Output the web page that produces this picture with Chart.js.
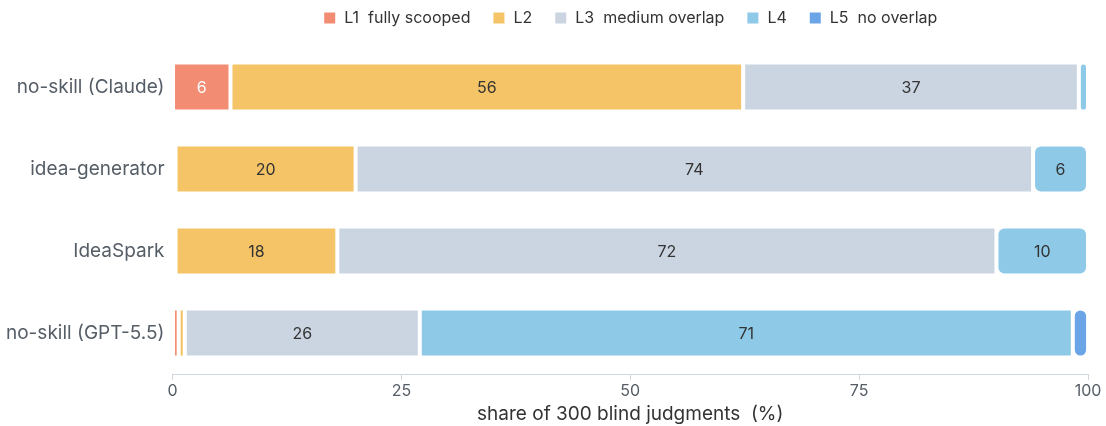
<!DOCTYPE html>
<html>
<head>
<meta charset="utf-8">
<script src="https://cdn.jsdelivr.net/npm/chart.js@4/dist/chart.umd.min.js"></script>
<style>
  body { margin: 0; background: #fff; }
  canvas { display: block; }
</style>
</head>
<body>
<canvas id="myChart" width="1106" height="426"></canvas>
<script>
var categories = ["no-skill (Claude)", "idea-generator", "IdeaSpark", "no-skill (GPT-5.5)"];
var seriesNames = ["L1  fully scooped", "L2", "L3  medium overlap", "L4", "L5  no overlap"];
// share (%) of 300 judgments per level
var l1 = [6.33, 0.33, 0.33, 0.67];
var l2 = [56, 19.67, 17.67, 0.67];
var l3 = [36.67, 74, 72, 25.67];
var l4 = [1, 6, 10, 71.33];
var l5 = [0, 0, 0, 1.67];
var xTicks = [0, 25, 50, 75, 100];

var colors = ['#f28c72', '#f5c466', '#cbd5e1', '#8ec9e8', '#6ba5e8'];
var labelColors = ['#ffffff', '#333333', '#333333', '#333333', '#333333'];
var allSeries = [l1, l2, l3, l4, l5];

var fontFamily = 'Inter, "Helvetica Neue", Arial, sans-serif';

var barLabels = {
  id: 'barLabels',
  afterDatasetsDraw: function(chart) {
    var ctx = chart.ctx;
    ctx.save();
    ctx.font = '16px ' + fontFamily;
    ctx.textAlign = 'center';
    ctx.textBaseline = 'middle';
    chart.data.datasets.forEach(function(ds, i) {
      var meta = chart.getDatasetMeta(i);
      if (meta.hidden) return;
      meta.data.forEach(function(bar, j) {
        var v = ds.data[j];
        if (v < 3) return;
        var p = bar.getCenterPoint();
        ctx.fillStyle = labelColors[i];
        ctx.fillText(Math.round(v), p.x, p.y + 1);
      });
    });
    ctx.restore();
  }
};

// a bit more room between legend and bars
var legendGap = {
  id: 'legendGap',
  beforeInit: function(chart) {
    var fit = chart.legend.fit;
    chart.legend.fit = function() {
      fit.bind(chart.legend)();
      this.height += 10;
    };
  }
};

var ctx = document.getElementById("myChart");
var chart = new Chart(ctx, {
  type: 'bar',
  data: {
    labels: categories,
    datasets: allSeries.map(function(d, i) {
      return {
        label: seriesNames[i],
        data: d,
        backgroundColor: colors[i],
        borderColor: '#ffffff',
        borderWidth: 2,
        borderRadius: 8,
        borderSkipped: false,
        categoryPercentage: 0.6,
        barPercentage: 1
      };
    })
  },
  options: {
    indexAxis: 'y',
    responsive: false,
    animation: false,
    layout: { padding: { left: 6, right: 18, top: -12, bottom: 0 } },
    plugins: {
      legend: {
        position: 'top',
        fullSize: false,
        labels: {
          boxWidth: 13,
          boxHeight: 13,
          padding: 22,
          color: '#333333',
          font: { family: fontFamily, size: 16 }
        }
      },
      tooltip: { enabled: false }
    },
    scales: {
      x: {
        stacked: true,
        min: 0,
        max: 100,
        afterBuildTicks: function(axis) {
          axis.ticks = xTicks.map(function(v) { return { value: v }; });
        },
        grid: { drawOnChartArea: false, tickLength: 6, color: '#cfd6df' },
        border: { color: '#cfd6df' },
        ticks: { color: '#555d66', font: { family: fontFamily, size: 16 }, padding: 2 },
        title: {
          display: true,
          text: 'share of 300 blind judgments  (%)',
          color: '#333333',
          font: { family: fontFamily, size: 19 },
          padding: { top: 0, bottom: 0 }
        }
      },
      y: {
        stacked: true,
        grid: { display: false },
        border: { display: false },
        ticks: { color: '#555d66', font: { family: fontFamily, size: 19 }, padding: 0 }
      }
    }
  },
  plugins: [barLabels, legendGap]
});
</script>
</body>
</html>
